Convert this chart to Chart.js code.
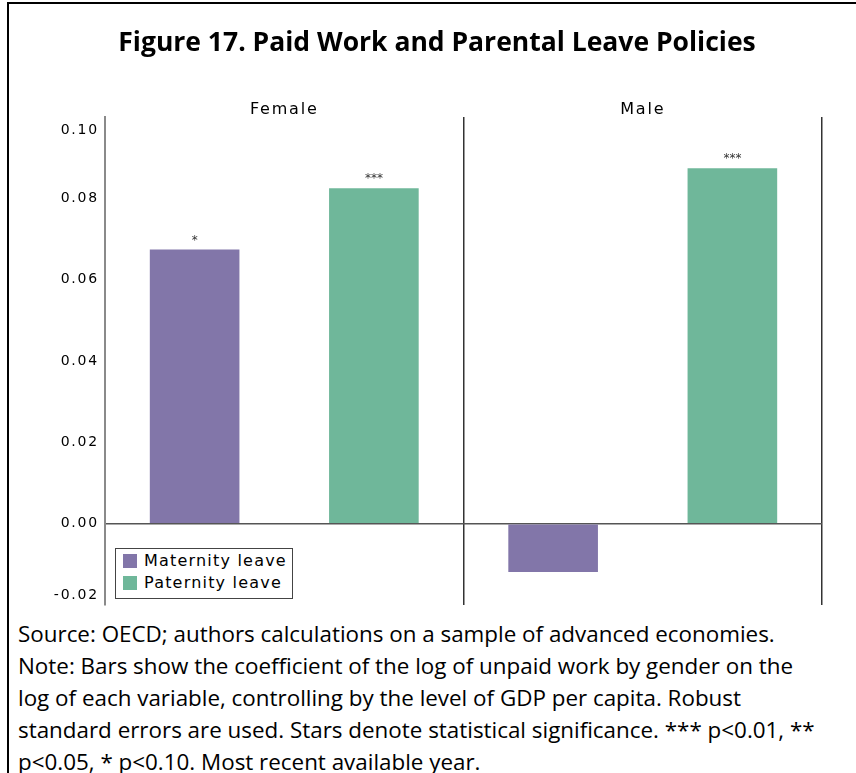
<!DOCTYPE html>
<html>
<head>
<meta charset="utf-8">
<script src="https://cdn.jsdelivr.net/npm/chart.js@4.4.0/dist/chart.umd.min.js"></script>
<style>
  html, body { margin: 0; padding: 0; background: #fff; }
  #wrap { position: relative; width: 856px; height: 773px; overflow: hidden; }
  #frame { position: absolute; left: 7px; top: 2px; right: -4px; bottom: -4px;
           border-left: 2px solid #000; border-top: 2px solid #000; }
  #title { position: absolute; left: 18px; right: 0; top: 23px; text-align: center;
           font: bold 26.5px "Open Sans", sans-serif; color: #000; }
  #chart { position: absolute; left: 0; top: 0; }
  #legend { position: absolute; left: 115px; top: 548px; width: 176px; height: 49px;
            border: 1px solid #444; background: #fff; white-space: nowrap;
            font: 16px "DejaVu Sans", sans-serif; letter-spacing: 1.2px; color: #000; }
  #legend div { position: relative; height: 22px; line-height: 22px; padding-left: 28px; }
  #legend div:first-child { margin-top: 1px; }
  #legend span { position: absolute; left: 7px; top: 4px; width: 14px; height: 14px; }
  #note { position: absolute; left: 18px; top: 618px; white-space: nowrap;
          font: 22.4px "Open Sans", sans-serif; line-height: 32px; color: #000; }
</style>
</head>
<body>
<div id="wrap">
  <div id="frame"></div>
  <canvas id="chart" width="856" height="615"></canvas>
  <div id="title">Figure 17. Paid Work and Parental Leave Policies</div>
  <div id="legend"></div>
  <div id="note">
    Source: OECD; authors calculations on a sample of advanced economies.<br>
    Note: Bars show the coefficient of the log of unpaid work by gender on the<br>
    log of each variable, controlling by the level of GDP per capita. Robust<br>
    standard errors are used. Stars denote statistical significance. *** p&lt;0.01, **<br>
    p&lt;0.05, * p&lt;0.10. Most recent available year.
  </div>
</div>
<script>
const panels = ['Female', 'Male'];
const maternity = [0.0674, -0.0119];
const paternity = [0.0825, 0.0874];
const maternityStars = ['*', ''];
const paternityStars = ['***', '***'];
const yTicks = [-0.02, 0, 0.02, 0.04, 0.06, 0.08, 0.10];
const yMin = -0.02, yMax = 0.10;

const PURPLE = '#8276a9';
const GREEN = '#6fb79a';
const FONT = 'DejaVu Sans';

// wider tracking for all canvas text
const spacing = {
  id: 'spacing',
  beforeDraw(chart) { chart.ctx.letterSpacing = '1.8px'; }
};

// significance stars above each bar
const stars = {
  id: 'stars',
  afterDatasetsDraw(chart) {
    const ctx = chart.ctx;
    const marks = [maternityStars, paternityStars];
    ctx.save();
    ctx.letterSpacing = '0px';
    ctx.font = '12px ' + FONT;
    ctx.fillStyle = '#333';
    ctx.textAlign = 'center';
    ctx.textBaseline = 'alphabetic';
    chart.data.datasets.forEach((ds, i) => {
      chart.getDatasetMeta(i).data.forEach((bar, j) => {
        const s = marks[i][j];
        if (!s) return;
        ctx.fillText(s, bar.x, bar.y - 6);
      });
    });
    ctx.restore();
  }
};

// end labels of the value axis sit a little inside the plot
const edgeTicks = {
  id: 'edgeTicks',
  afterDraw(chart) {
    const ctx = chart.ctx;
    const y = chart.scales.y;
    ctx.save();
    ctx.font = '14px ' + FONT;
    ctx.fillStyle = '#000';
    ctx.textAlign = 'right';
    ctx.textBaseline = 'middle';
    ctx.fillText(yMax.toFixed(2), y.right - 6, y.getPixelForValue(yMax) + 13);
    ctx.fillText(yMin.toFixed(2), y.right - 6, y.getPixelForValue(yMin) - 10);
    ctx.restore();
  }
};

const chart = new Chart(document.getElementById('chart'), {
  type: 'bar',
  data: {
    labels: panels,
    datasets: [
      { label: 'Maternity leave', data: maternity, backgroundColor: PURPLE },
      { label: 'Paternity leave', data: paternity, backgroundColor: GREEN }
    ]
  },
  options: {
    responsive: false,
    animation: false,
    categoryPercentage: 1,
    barPercentage: 0.5,
    layout: { padding: { left: 0, right: 34, top: 0, bottom: 10 } },
    plugins: {
      legend: { display: false },
      tooltip: { enabled: false }
    },
    scales: {
      x: {
        position: 'top',
        border: { display: false },
        grid: {
          offset: true,
          drawTicks: false,
          lineWidth: 1.5,
          color: c => c.index === 0 ? 'rgba(0,0,0,0)' : '#333'
        },
        ticks: { font: { family: FONT, size: 16 }, color: '#000', padding: -2 },
        afterFit: s => { s.height = 117; }
      },
      y: {
        min: yMin,
        max: yMax,
        border: { color: '#8a8a8a', width: 2 },
        grid: {
          drawTicks: false,
          lineWidth: 1.5,
          color: c => (c.tick && c.tick.value === 0) ? '#555' : 'rgba(0,0,0,0)'
        },
        afterBuildTicks: s => { s.ticks = yTicks.map(v => ({ value: v })); },
        ticks: {
          font: { family: FONT, size: 14 },
          color: '#000',
          padding: 6,
          callback: v => (v === yMin || v === yMax) ? '' : v.toFixed(2)
        },
        afterFit: s => { s.width = 105; s.paddingTop = 0; s.paddingBottom = 0; }
      }
    }
  },
  plugins: [spacing, stars, edgeTicks]
});

// boxed legend in the lower left of the plot
const legend = document.getElementById('legend');
chart.data.datasets.forEach(ds => {
  const row = document.createElement('div');
  const sw = document.createElement('span');
  sw.style.background = ds.backgroundColor;
  row.appendChild(sw);
  row.appendChild(document.createTextNode(ds.label));
  legend.appendChild(row);
});
</script>
</body>
</html>
